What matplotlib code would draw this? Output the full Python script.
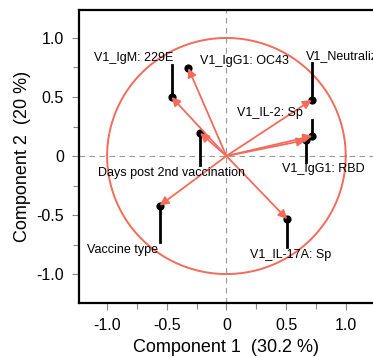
import matplotlib.pyplot as plt
import numpy as np

plt.rcParams['font.family'] = ['Liberation Sans', 'DejaVu Sans']

# loadings (component 1, component 2)
names = ["V1_IgM: 229E", "V1_IgG1: OC43", "V1_Neutralization", "V1_IL-2: Sp",
         "V1_IgG1: RBD", "Days post 2nd vaccination", "Vaccine type", "V1_IL-17A: Sp"]
comp1 = [-0.46, -0.32, 0.715, 0.72, 0.665, -0.22, -0.56, 0.51]
comp2 = [0.50, 0.745, 0.475, 0.17, 0.135, 0.195, -0.42, -0.535]

xticks = [-1.0, -0.5, 0, 0.5, 1.0]
xticklabels = ["-1.0", "-0.5", "0", "0.5", "1.0"]
yticks = [-1.0, -0.5, 0, 0.5, 1.0]
yticklabels = ["-1.0", "-0.5", "0", "0.5", "1.0"]

# label layout: text x, text y, alignment, end of leader line (y)
label_pos = [(-0.78, 0.83, "center", 0.77),
             (-0.22, 0.805, "left", None),
             (0.67, 0.85, "left", 0.79),
             (0.64, 0.365, "right", 0.305),
             (0.47, -0.11, "left", -0.05),
             (-1.075, -0.145, "left", -0.075),
             (-1.17, -0.80, "left", -0.73),
             (0.20, -0.84, "left", -0.77)]

red = "#F26B5B"

fig = plt.figure(figsize=(3.73, 3.57), dpi=100)
ax = fig.add_axes([0.212, 0.151, 0.79, 0.821])

ax.axhline(0, color="#999999", ls=(0, (5, 4)), lw=0.8, zorder=1)
ax.axvline(0, color="#999999", ls=(0, (5, 4)), lw=0.8, zorder=1)

t = np.linspace(0, 2 * np.pi, 300)
ax.plot(np.cos(t), np.sin(t), color=red, lw=1.4, zorder=2)

for i in range(len(names)):
    tx, ty, ha, lead = label_pos[i]
    if lead is not None:
        ax.plot([comp1[i], comp1[i]], [comp2[i], lead], color="black", lw=2, zorder=3)
    ax.text(tx, ty, names[i], ha=ha, va="center", fontsize=9, zorder=6)

ax.scatter(comp1, comp2, s=24, color="black", zorder=4)
for i in range(len(names)):
    ax.annotate("", xy=(comp1[i], comp2[i]), xytext=(0, 0),
                arrowprops=dict(arrowstyle="-|>", color=red, lw=1.3,
                                mutation_scale=13, shrinkA=0, shrinkB=0),
                zorder=5)

ax.set_xlim(-1.235, 1.235)
ax.set_ylim(-1.246, 1.237)
ax.set_xticks(xticks)
ax.set_xticklabels(xticklabels)
ax.set_yticks(yticks)
ax.set_yticklabels(yticklabels)
ax.set_xticks([-0.75, -0.25, 0.25, 0.75], minor=True)
ax.set_yticks([-0.75, -0.25, 0.25, 0.75], minor=True)
ax.tick_params(which="both", direction="out", width=0.8, color="#888888")
ax.tick_params(which="major", length=5, labelsize=11.5, pad=6)
ax.tick_params(which="minor", length=4)
ax.xaxis.get_major_ticks()[2].tick1line.set_color(red)
ax.yaxis.get_major_ticks()[2].tick1line.set_color(red)

for s in ["left", "bottom", "top"]:
    ax.spines[s].set_linewidth(1.6)
ax.spines["right"].set_visible(False)

ax.set_xlabel("Component 1  (30.2 %)", fontsize=13, labelpad=4)
ax.set_ylabel("Component 2  (20 %)", fontsize=13, labelpad=4)

plt.savefig("out.png", dpi=100)
